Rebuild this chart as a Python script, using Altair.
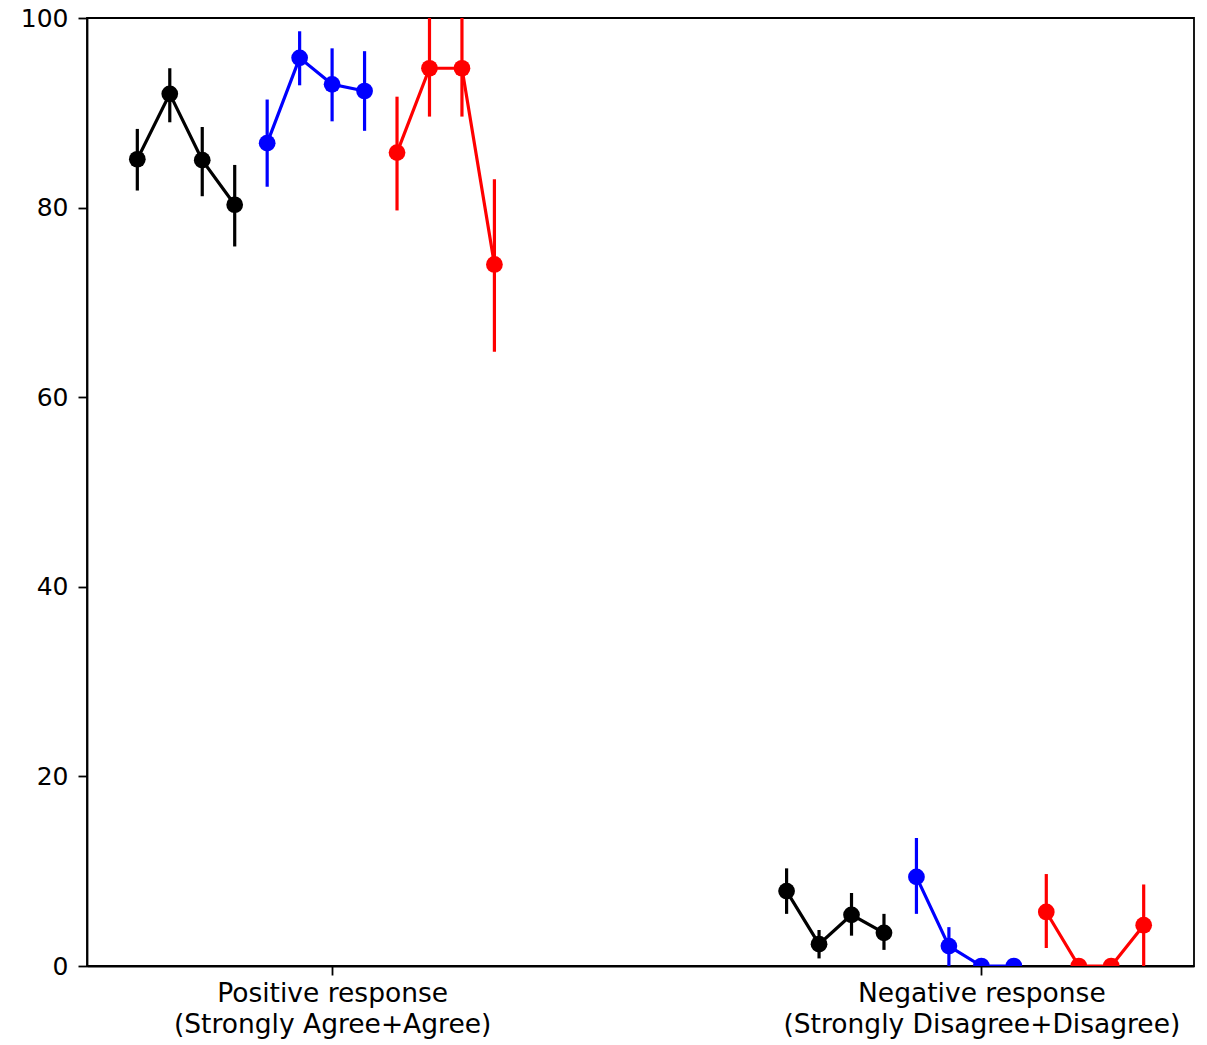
import altair as alt
import pandas as pd

# Response categories (x positions 0 and 1) with two-line tick labels
group_titles = ["Positive response", "Negative response"]
group_subtitles = ["(Strongly Agree+Agree)", "(Strongly Disagree+Disagree)"]

# Three series, each drawn as four connected points within a category
series_names = ["black", "blue", "red"]
series_colors = ["#000000", "#0000ff", "#ff0000"]
series_offsets = [
    [-0.30, -0.25, -0.20, -0.15],
    [-0.10, -0.05, 0.00, 0.05],
    [0.10, 0.15, 0.20, 0.25],
]

# Percentages: [group][series] -> four values
means = [
    [[85.1, 92.0, 85.0, 80.3], [86.8, 95.8, 93.0, 92.3], [85.8, 94.7, 94.7, 74.0]],
    [[7.9, 2.3, 5.4, 3.5], [9.4, 2.1, 0.0, 0.0], [5.7, 0.0, 0.0, 4.3]],
]
lower = [
    [[81.8, 89.0, 81.2, 75.9], [82.2, 92.9, 89.1, 88.1], [79.7, 89.6, 89.6, 64.8]],
    [[5.5, 0.8, 3.2, 1.7], [5.5, 0.0, 0.0, 0.0], [1.9, 0.0, 0.0, 0.0]],
]
upper = [
    [[88.3, 94.7, 88.5, 84.5], [91.4, 98.6, 96.8, 96.5], [91.7, 100.0, 100.0, 83.0]],
    [[10.3, 3.8, 7.7, 5.5], [13.5, 4.1, 0.0, 0.0], [9.7, 0.0, 0.0, 8.6]],
]

rows = []
for g in range(len(group_titles)):
    for s, name in enumerate(series_names):
        for i in range(4):
            rows.append({
                "x": g + series_offsets[s][i],
                "value": means[g][s][i],
                "lo": lower[g][s][i],
                "hi": upper[g][s][i],
                "series": name,
                "run": f"{g}-{name}",
                "order": i,
            })
df = pd.DataFrame(rows)

x_scale = alt.Scale(domain=[-0.3775, 1.3275], nice=False, zero=False)
y_scale = alt.Scale(domain=[0, 100], nice=False)
color = alt.Color("series:N", scale=alt.Scale(domain=series_names, range=series_colors), legend=None)

label_expr = (
    f"datum.value == 0 ? ['{group_titles[0]}', '{group_subtitles[0]}'] "
    f": ['{group_titles[1]}', '{group_subtitles[1]}']"
)

x_enc = alt.X(
    "x:Q", scale=x_scale, title=None,
    axis=alt.Axis(values=[0, 1], labelExpr=label_expr, grid=False, labelLimit=0,
                  labelFontSize=26.5, labelLineHeight=31, labelPadding=5, tickSize=9),
)
y_enc = alt.Y(
    "value:Q", scale=y_scale, title=None,
    axis=alt.Axis(values=[0, 20, 40, 60, 80, 100], grid=False, tickSize=9, labelPadding=10),
)

base = alt.Chart(df)

bars = base.transform_filter("datum.hi > datum.lo").mark_rule(strokeWidth=3.2, clip=True).encode(
    x=x_enc, y=alt.Y("lo:Q", scale=y_scale), y2="hi:Q", color=color,
)
lines = base.mark_line(strokeWidth=3.2, clip=True).encode(
    x=x_enc, y=y_enc, detail="run:N", order="order:Q", color=color,
)
points = base.mark_circle(size=280, opacity=1, clip=True).encode(
    x=x_enc, y=y_enc, color=color,
)

chart = (
    alt.layer(bars, lines, points)
    .properties(
        width=1107, height=948,
        autosize=alt.AutoSizeParams(type="none"),
        padding={"left": 87, "top": 18, "right": 13, "bottom": 79},
    )
    .configure_view(stroke="#000000", strokeWidth=1.8)
    .configure_axis(
        domainColor="#000000", domainWidth=1.8, tickColor="#000000", tickWidth=1.8,
        labelFont="DejaVu Sans", labelFontSize=25, labelColor="#000000",
    )
)

chart.save("out.html", embed_options={"renderer": "svg", "actions": False})
